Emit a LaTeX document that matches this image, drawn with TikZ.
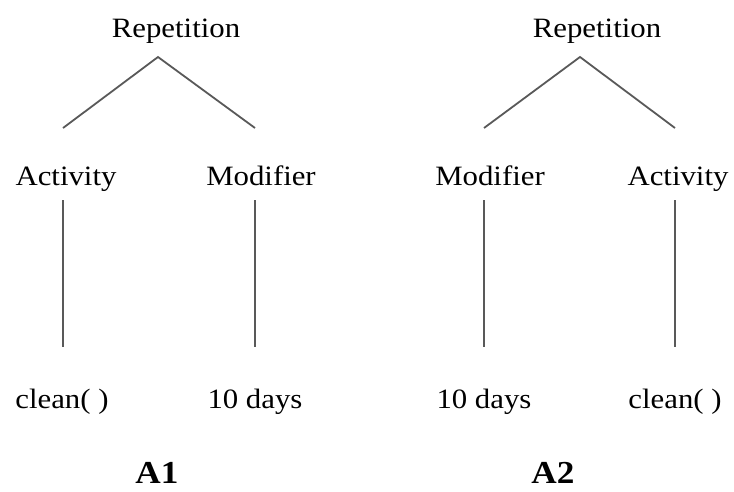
\documentclass[tikz,border=0pt]{standalone}
\usepackage{fontspec}
\setmainfont{Liberation Serif}[FakeStretch=1.1]
\begin{document}
\begin{tikzpicture}[x=1pt,y=-1pt,
  lbl/.style={anchor=base,inner sep=0pt,font=\fontsize{28}{30}\selectfont},
  treename/.style={anchor=base,inner sep=0pt,font=\fontsize{32}{34}\selectfont\bfseries},
  branch/.style={draw=black!65,line width=1.8pt}]
\useasboundingbox (0,0) rectangle (734,491);
% ---- tree A1 ----
\node[lbl] (r1) at (176,37) {Repetition};
\node[lbl] (a1) at (66,185) {Activity};
\node[lbl] (m1) at (261,185) {Modifier};
\node[lbl] (c1) at (62,408) {clean( )};
\node[lbl] (d1) at (255,408) {10 days};
\node[treename] (n1) at (157,483) {A1};
\coordinate (p1) at (158,57);
\coordinate (a1t) at (63,128);
\coordinate (m1t) at (255,128);
\coordinate (a1b) at (63,200);
\coordinate (c1t) at (63,347);
\coordinate (m1b) at (255,200);
\coordinate (d1t) at (255,347);
\draw[branch] (a1t) -- (p1) -- (m1t);
\draw[branch] (a1b) -- (c1t);
\draw[branch] (m1b) -- (d1t);
% ---- tree A2 ----
\node[lbl] (r2) at (597,37) {Repetition};
\node[lbl] (m2) at (490,185) {Modifier};
\node[lbl] (a2) at (678,185) {Activity};
\node[lbl] (d2) at (484,408) {10 days};
\node[lbl] (c2) at (675,408) {clean( )};
\node[treename] (n2) at (553,483) {A2};
\coordinate (p2) at (580,57);
\coordinate (m2t) at (484,128);
\coordinate (a2t) at (675,128);
\coordinate (m2b) at (484,200);
\coordinate (d2t) at (484,347);
\coordinate (a2b) at (675,200);
\coordinate (c2t) at (675,347);
\draw[branch] (m2t) -- (p2) -- (a2t);
\draw[branch] (m2b) -- (d2t);
\draw[branch] (a2b) -- (c2t);
\end{tikzpicture}
\end{document}
